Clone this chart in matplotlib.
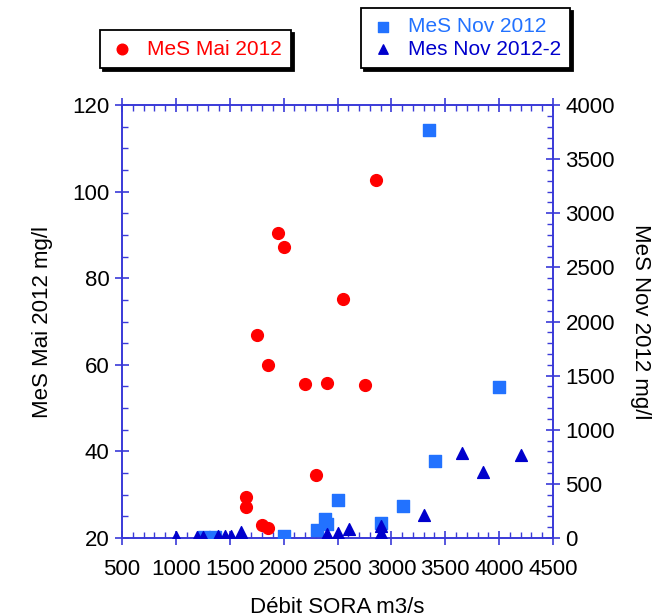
import matplotlib
matplotlib.use("Agg")
import matplotlib.pyplot as plt
from matplotlib.ticker import MultipleLocator

plt.rcParams['font.family'] = ['Liberation Sans', 'DejaVu Sans']

# MeS Mai 2012 (left axis, mg/l)
mai_x = [2854, 1951, 2000, 2554, 1753, 1852, 2201, 2403, 2755, 2300, 1651, 1651, 1802, 1855]
mai_y = [102.7, 90.5, 87.3, 75.2, 66.8, 59.9, 55.6, 55.8, 55.3, 34.6, 29.5, 27.1, 22.9, 22.2]

# MeS Nov 2012 (right axis, mg/l)
nov_x = [3352, 4002, 3408, 2508, 3104, 2384, 2405, 2307, 2904, 2003, 1260, 1360]
nov_y = [3766, 1398, 714, 348, 296, 178, 129, 74, 136, 18, 10, 10]

# Mes Nov 2012-2 (right axis, mg/l)
nov2_x = [3653, 4203, 3853, 3303, 2904, 2904, 2604, 2505, 2400, 1601, 1509, 1456, 1394, 1249, 1193, 1001]
nov2_y = [782, 767, 607, 212, 111, 43, 80, 46, 37, 52, 15, 15, 15, 12, 12, 12]

RED, LBLUE, DBLUE, AXC = "#ff0000", "#2272ff", "#0000cc", "#3a3ad8"
FS = 16
LFS = 15

fig = plt.figure(figsize=(6.67, 6.16), dpi=100)
ax1 = fig.add_axes([0.183, 0.1266, 0.646, 0.7029])
ax2 = ax1.twinx()

ax1.scatter(mai_x, mai_y, s=72, marker="o", color=RED, label="MeS Mai 2012", zorder=3)
ax2.scatter(nov_x, nov_y, s=78, marker="s", color=LBLUE, label="MeS Nov 2012", zorder=3)
ax2.scatter(nov2_x, nov2_y, s=72, marker="^", color=DBLUE, label="Mes Nov 2012-2", zorder=4)

ax1.set_xlim(500, 4500)
ax1.set_ylim(20, 120)
ax2.set_ylim(0, 4000)

ax1.xaxis.set_major_locator(MultipleLocator(500))
ax1.xaxis.set_minor_locator(MultipleLocator(100))
ax1.yaxis.set_major_locator(MultipleLocator(20))
ax1.yaxis.set_minor_locator(MultipleLocator(5))
ax2.yaxis.set_major_locator(MultipleLocator(500))
ax2.yaxis.set_minor_locator(MultipleLocator(100))

for ax in (ax1, ax2):
    for sp in ax.spines.values():
        sp.set_color(AXC)
        sp.set_linewidth(1.2)

ax1.tick_params(axis="x", which="major", direction="inout", length=10, width=1.2,
                color=AXC, top=True, labelsize=FS, pad=10, labelcolor="black")
ax1.tick_params(axis="x", which="minor", direction="in", length=4, width=1,
                color=AXC, top=True)
ax1.tick_params(axis="y", which="major", direction="inout", length=10, width=1.2,
                color=AXC, labelsize=FS, pad=4)
ax1.tick_params(axis="y", which="minor", direction="in", length=4, width=1, color=AXC)
ax2.tick_params(axis="y", which="major", direction="inout", length=10, width=1.2,
                color=AXC, labelsize=FS, pad=4)
ax2.tick_params(axis="y", which="minor", direction="in", length=4, width=1, color=AXC)

ax1.set_xlabel("Débit SORA m3/s", fontsize=FS, labelpad=12)
ax1.set_ylabel("MeS Mai 2012 mg/l", fontsize=FS, labelpad=14)
ax2.set_ylabel("MeS Nov 2012 mg/l", fontsize=FS, rotation=270, labelpad=26)

shadow = {"color": "black", "alpha": 1}
h1, l1 = ax1.get_legend_handles_labels()
leg1 = fig.legend(h1, l1, loc="upper left", bbox_to_anchor=(0.15, 0.951),
                  borderaxespad=0, fontsize=LFS, frameon=True, fancybox=False,
                  shadow=shadow, handletextpad=0.6, borderpad=0.45,
                  handlelength=1.2, markerscale=0.9)
h2, l2 = ax2.get_legend_handles_labels()
leg2 = fig.legend(h2, l2, loc="upper left", bbox_to_anchor=(0.541, 0.987),
                  borderaxespad=0, fontsize=LFS, frameon=True, fancybox=False,
                  shadow=shadow, handletextpad=0.6, borderpad=0.45,
                  handlelength=1.2, labelspacing=0.15, markerscale=0.8)
for leg, cols in ((leg1, [RED]), (leg2, [LBLUE, DBLUE])):
    leg.get_frame().set_edgecolor("black")
    leg.get_frame().set_linewidth(1.3)
    for t, c in zip(leg.get_texts(), cols):
        t.set_color(c)

fig.savefig("out.png", dpi=100)
